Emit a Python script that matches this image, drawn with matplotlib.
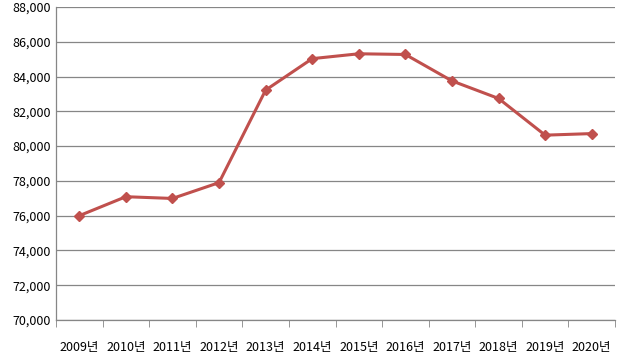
import matplotlib
matplotlib.use("Agg")
import matplotlib.pyplot as plt
from matplotlib.ticker import FuncFormatter, FixedLocator

plt.rcParams['font.family'] = ['Noto Sans CJK KR', 'DejaVu Sans']

years = ['2009년', '2010년', '2011년', '2012년', '2013년', '2014년',
         '2015년', '2016년', '2017년', '2018년', '2019년', '2020년']
values = [76000, 77090, 76990, 77900, 83220, 85030,
          85310, 85270, 83750, 82740, 80630, 80720]

fig = plt.figure(figsize=(6.22, 3.56), dpi=100)
ax = fig.add_axes([56 / 622, 1 - 320 / 356, 559 / 622, 313 / 356])

x = list(range(len(years)))
ax.plot(x, values, color='#C0504D', linewidth=2.2, marker='D', markersize=5.5,
        markerfacecolor='#C0504D', markeredgecolor='#C0504D', zorder=3)

ax.set_xlim(-0.5, len(years) - 0.5)
ax.set_ylim(70000, 88000)
ax.set_yticks(range(70000, 88001, 2000))
ax.yaxis.set_major_formatter(FuncFormatter(lambda v, p: f'{int(v):,}'))
ax.grid(axis='y', color='#868686', linewidth=0.9)
ax.set_axisbelow(True)

# category labels centered, tick marks at category boundaries
ax.set_xticks(x)
ax.set_xticklabels(years)
ax.xaxis.set_minor_locator(FixedLocator([i - 0.5 for i in range(len(years) + 1)]))
ax.tick_params(axis='x', which='major', length=0, pad=15, labelsize=9)
ax.tick_params(axis='x', which='minor', length=5, color='#868686', direction='out')
ax.tick_params(axis='y', length=0, pad=4, labelsize=9)

for s in ['top', 'right']:
    ax.spines[s].set_visible(False)
for s in ['left', 'bottom']:
    ax.spines[s].set_color('#868686')
    ax.spines[s].set_linewidth(0.9)

fig.savefig('out.png', dpi=100)
